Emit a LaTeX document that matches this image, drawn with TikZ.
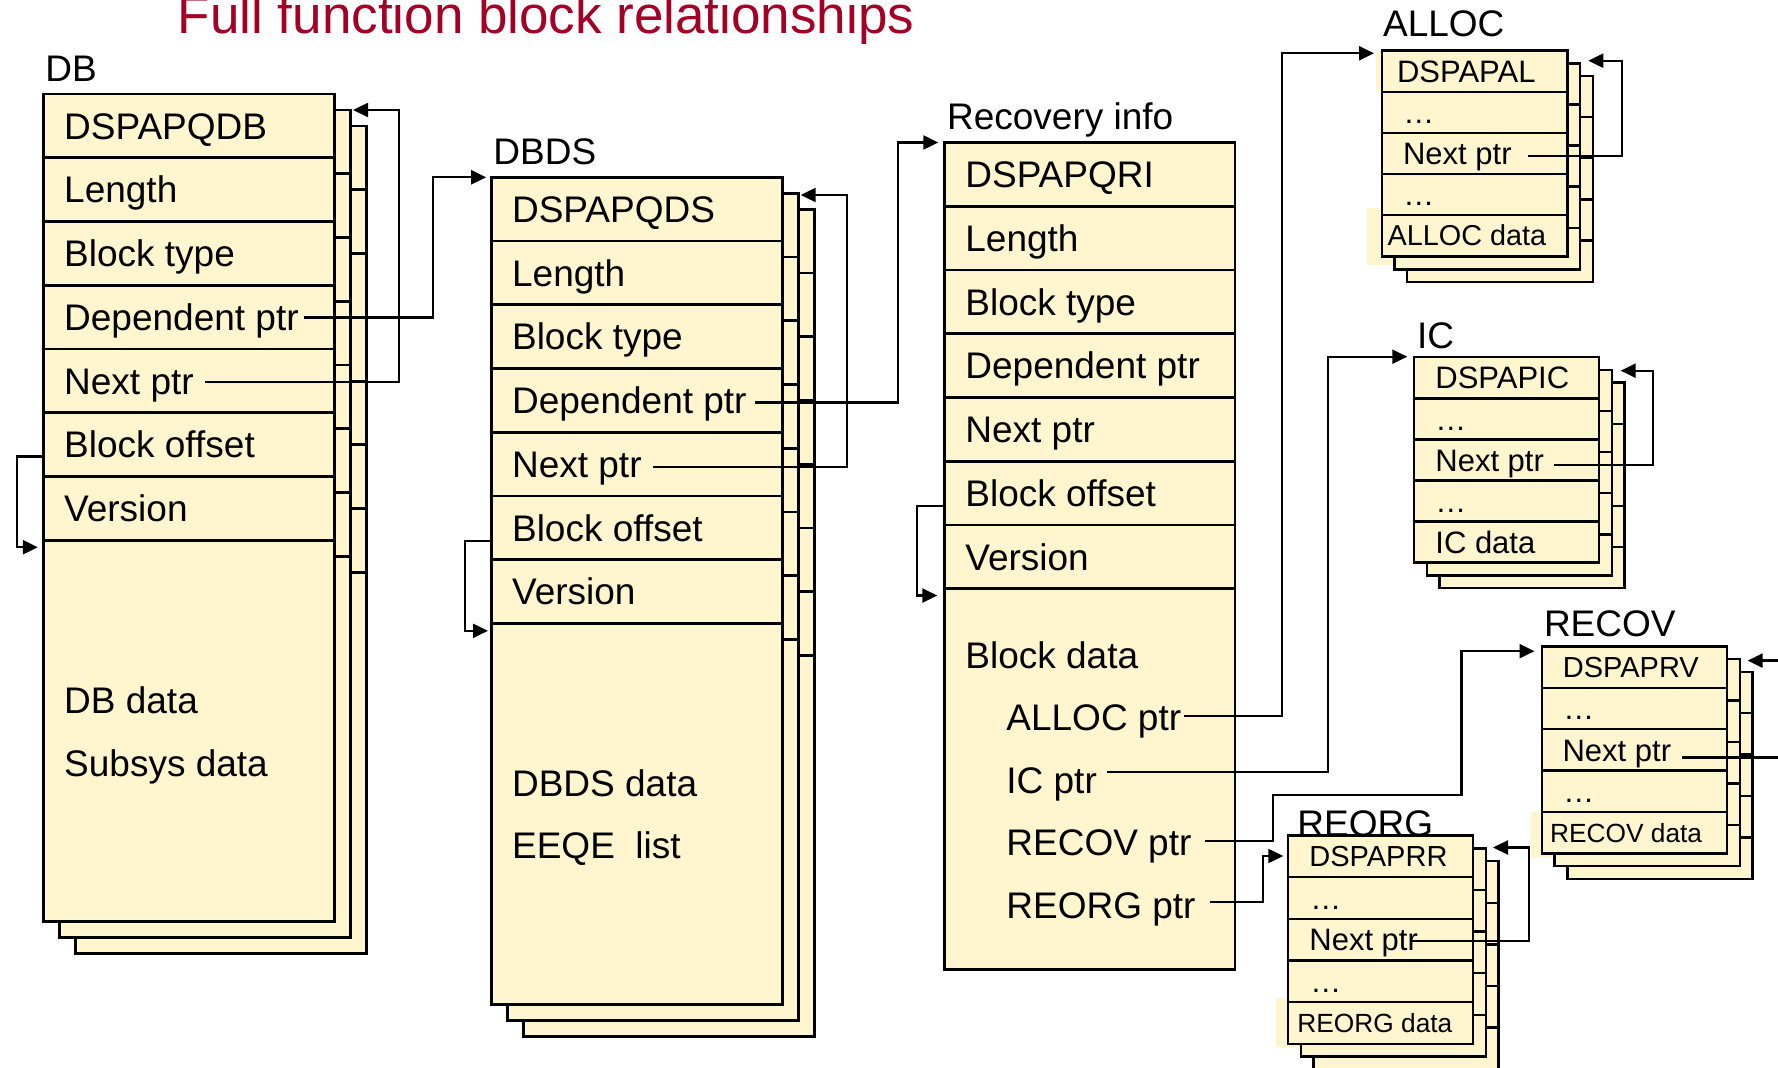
\documentclass[tikz,border=0pt]{standalone}
\usepackage{fontspec}
\setmainfont{Liberation Sans}
\usetikzlibrary{arrows.meta,calc}
\definecolor{cream}{RGB}{255,246,208}
\definecolor{titlered}{RGB}{163,0,38}

\tikzset{
  conn/.style={line width=1.15pt, -{Triangle[length=7.5pt,width=7pt]}},
  boxbase/.style={rectangle, draw=black, fill=cream, anchor=north west, inner sep=0pt, outer sep=0pt},
  bigtxt/.style={anchor=west, inner sep=0pt, font=\fontsize{18.5pt}{22pt}\selectfont, text height=13.25pt, text depth=0pt},
  smalltxt/.style={anchor=west, inner sep=0pt, font=\fontsize{15.5pt}{18pt}\selectfont, text height=11.1pt, text depth=0pt},
  narrowtxt/.style={anchor=west, inner sep=0pt, font=\fontsize{14.5pt}{17pt}\selectfont, text height=10.4pt, text depth=0pt},
  alldata/.style={anchor=west, inner sep=0pt, font=\fontsize{14.4pt}{17pt}\selectfont, text height=10.3pt, text depth=0pt},
  tinydata/.style={anchor=west, inner sep=0pt, font=\fontsize{13.15pt}{16pt}\selectfont, text height=9.4pt, text depth=0pt},
  blklabel/.style={anchor=base west, inner sep=0pt, font=\fontsize{18.5pt}{22pt}\selectfont},
}

% #1 name, #2 left, #3 top, #4 width, #5 height, #6 dividers,
% #7 row height, #8 step of the copies behind (0 = none), #9 line width
\newcommand{\fcstack}[9]{%
  \ifdim #8pt>0pt
    \foreach \k in {2,1}{%
      \pgfmathsetmacro\dd{\k*#8}%
      \node[boxbase, line width=#9, minimum width=#4*0.5pt, minimum height=#5*0.5pt] (#1\k) at (#2+\dd,#3+\dd) {};
      \foreach \r in {1,...,#6}{\draw[line width=#9] (#2+\dd,#3+\dd+\r*#7) -- ++(#4,0);}
    }%
  \fi
  \node[boxbase, line width=#9, minimum width=#4*0.5pt, minimum height=#5*0.5pt] (#1) at (#2,#3) {};
  \foreach \r in {1,...,#6}{%
    \draw[line width=#9] (#2,#3+\r*#7) -- ++(#4,0);
    \coordinate (#1-d\r) at (#2,#3+\r*#7);
  }%
  \foreach \r in {1,...,7}{\coordinate (#1-r\r) at (#2,#3+\r*#7-0.5*#7);}%
}

\begin{document}
\begin{tikzpicture}[x=0.5pt,y=-0.5pt]
\useasboundingbox (0,0) rectangle (1778,1068);
\clip (0,0) rectangle (1778,1068);

% title
\node[anchor=base west, inner sep=0pt, font=\fontsize{26.5pt}{30pt}\selectfont, text=titlered] (title) at (177.4,33.3) {Full function block relationships};

% block names
\node[blklabel] (dblabel) at (45,82) {DB};
\node[blklabel] (dslabel) at (493,164.3) {DBDS};
\node[blklabel] (rilabel) at (946.7,130) {Recovery info};
\node[blklabel] (allabel) at (1382.7,36.7) {ALLOC};
\node[blklabel] (iclabel) at (1416.7,348.3) {IC};
\node[blklabel] (rvlabel) at (1543.6,637) {RECOV};
\node[blklabel] (rolabel) at (1297,837) {REORG};

% text-box backgrounds reaching past the block edges
\fill[cream] (1376,51) rectangle (1390,91.7);
\fill[cream] (1367,208.3) rectangle (1400,265);
\fill[cream] (1531,812) rectangle (1560,857.6);
\fill[cream] (1276,998.3) rectangle (1300,1046.7);

% blocks
\fcstack{db}{43.3}{94}{291}{827.4}{7}{63.75}{16}{1.35pt}
\fcstack{ds}{491.7}{177.3}{290.6}{827}{7}{63.75}{16}{1.35pt}
\fcstack{ri}{944.3}{142.5}{290.7}{826.8}{7}{63.75}{0}{1.35pt}
\fcstack{al}{1381.7}{50.7}{185.6}{206}{4}{41.1}{12.7}{1.2pt}
\fcstack{ic}{1414}{357.3}{185}{205.4}{4}{41.1}{12.7}{1.2pt}
\fcstack{rv}{1541.9}{646.5}{185.2}{207}{4}{41.4}{12.7}{1.2pt}
\fcstack{ro}{1288}{835.7}{185.2}{208}{4}{41.6}{12.7}{1.2pt}

% DB fields
\node[bigtxt] (dbhdr)  at ($(db-r1)+(20.5,0)$) {DSPAPQDB};
\node[bigtxt] (dblen)  at ($(db-r2)+(20.5,0)$) {Length};
\node[bigtxt] (dbtype) at ($(db-r3)+(20.5,0)$) {Block type};
\node[bigtxt] (dbdep)  at ($(db-r4)+(20.5,0)$) {Dependent ptr};
\node[bigtxt] (dbnext) at ($(db-r5)+(20.5,0)$) {Next ptr};
\node[bigtxt] (dboff)  at ($(db-r6)+(20.5,0)$) {Block offset};
\node[bigtxt] (dbver)  at ($(db-r7)+(20.5,0)$) {Version};
\node[bigtxt] (dbdata) at ($(db.north west)+(20.5,606.4)$) {DB data};
\node[bigtxt] (dbsub)  at ($(db.north west)+(20.5,669.4)$) {Subsys data};

% DBDS fields
\node[bigtxt] (dshdr)  at ($(ds-r1)+(20,0)$) {DSPAPQDS};
\node[bigtxt] (dslen)  at ($(ds-r2)+(20,0)$) {Length};
\node[bigtxt] (dstype) at ($(ds-r3)+(20,0)$) {Block type};
\node[bigtxt] (dsdep)  at ($(ds-r4)+(20,0)$) {Dependent ptr};
\node[bigtxt] (dsnext) at ($(ds-r5)+(20,0)$) {Next ptr};
\node[bigtxt] (dsoff)  at ($(ds-r6)+(20,0)$) {Block offset};
\node[bigtxt] (dsver)  at ($(ds-r7)+(20,0)$) {Version};
\node[bigtxt] (dsdata) at ($(ds.north west)+(20,606.2)$) {DBDS data};
\node[bigtxt] (dseeqe) at ($(ds.north west)+(20,668)$) {EEQE\ \ list};

% Recovery info fields
\node[bigtxt] (rihdr)  at ($(ri-r1)+(20.7,0)$) {DSPAPQRI};
\node[bigtxt] (rilen)  at ($(ri-r2)+(20.7,0)$) {Length};
\node[bigtxt] (ritype) at ($(ri-r3)+(20.7,0)$) {Block type};
\node[bigtxt] (ridep)  at ($(ri-r4)+(20.7,0)$) {Dependent ptr};
\node[bigtxt] (rinext) at ($(ri-r5)+(20.7,0)$) {Next ptr};
\node[bigtxt] (rioff)  at ($(ri-r6)+(20.7,0)$) {Block offset};
\node[bigtxt] (river)  at ($(ri-r7)+(20.7,0)$) {Version};
\node[bigtxt] (ridata) at ($(ri.north west)+(20.7,512.5)$) {Block data};
\node[bigtxt] (riallocp) at ($(ri.north west)+(61.7,575)$) {ALLOC ptr};
\node[bigtxt] (riicp)    at ($(ri.north west)+(61.7,637.5)$) {IC ptr};
\node[bigtxt] (rirecovp) at ($(ri.north west)+(61.7,700)$) {RECOV ptr};
\node[bigtxt] (rireorgp) at ($(ri.north west)+(61.7,762.5)$) {REORG ptr};

% ALLOC fields
\node[smalltxt] (alhdr)  at ($(al-r1)+(15,0)$) {DSPAPAL};
\node[smalltxt] (aldot1) at ($(al-r2)+(21.3,0)$) {…};
\node[smalltxt] (alnext) at ($(al-r3)+(21,0)$) {Next ptr};
\node[smalltxt] (aldot2) at ($(al-r4)+(21.3,0)$) {…};
\node[alldata]  (aldata) at ($(al-r5)+(5.6,0)$) {ALLOC data};

% IC fields
\node[smalltxt] (ichdr)  at ($(ic-r1)+(21,0)$) {DSPAPIC};
\node[smalltxt] (icdot1) at ($(ic-r2)+(21,0)$) {…};
\node[smalltxt] (icnext) at ($(ic-r3)+(21,0)$) {Next ptr};
\node[smalltxt] (icdot2) at ($(ic-r4)+(21,0)$) {…};
\node[smalltxt] (icdata) at ($(ic-r5)+(21,0)$) {IC data};

% RECOV fields
\node[narrowtxt] (rvhdr)  at ($(rv-r1)+(20.6,0)$) {DSPAPRV};
\node[smalltxt]  (rvdot1) at ($(rv-r2)+(21,0)$) {…};
\node[smalltxt]  (rvnext) at ($(rv-r3)+(20.3,0)$) {Next ptr};
\node[smalltxt]  (rvdot2) at ($(rv-r4)+(21,0)$) {…};
\node[tinydata]  (rvdata) at ($(rv-r5)+(7.8,0)$) {RECOV data};

% REORG fields
\node[narrowtxt] (rohdr)  at ($(ro-r1)+(21,0)$) {DSPAPRR};
\node[smalltxt]  (rodot1) at ($(ro-r2)+(22,0)$) {…};
\node[smalltxt]  (ronext) at ($(ro-r3)+(21,0)$) {Next ptr};
\node[smalltxt]  (rodot2) at ($(ro-r4)+(22,0)$) {…};
\node[tinydata]  (rodata) at ($(ro-r5)+(9,0)$) {REORG data};

% DB pointers
\draw[conn] ($(dbdep.east)+(4.5,0.5)$) -| ($(ds.north west)+(-58.7,0)$) -- ($(ds.north west)+(-5.5,0)$);
\draw[conn] ($(dbnext.east)+(10.5,1)$) -| ($(db1.north east)+(48.7,0)$) -- ($(db1.north east)+(2.7,0)$);
\draw[conn] ($(db-r6)+(0,12)$) -- ++(-26.3,0) |- ($(db-d7)+(-5.5,7)$);

% DBDS pointers
\draw[conn] ($(dsdep.east)+(8,2)$) -| ($(ri.north west)+(-46,0)$) -- ($(ri.north west)+(-6,0)$);
\draw[conn] ($(dsnext.east)+(11,2.5)$) -| ($(ds1.north east)+(48.4,1.7)$) -- ($(ds1.north east)+(2.4,1.7)$);
\draw[conn] ($(ds-r6)+(0,13)$) -- ++(-26.7,0) |- ($(ds-d7)+(-3.7,7.3)$);

% Recovery info pointers
\draw[conn] ($(ri-r6)+(0,13)$) -- ++(-27.6,0) |- ($(ri-d7)+(-7,6.8)$);
\draw[conn] ($(riallocp.east)+(2.5,-1.5)$) -| ($(al.north west)+(-100,2.6)$) -- ($(al.north west)+(-7.7,2.6)$);
\draw[conn] ($(riicp.east)+(9.5,-8)$) -| ($(ic.north west)+(-85.7,-0.6)$) -- ($(ic.north west)+(-6.7,-0.6)$);
\draw[conn] ($(rirecovp.east)+(13,-1.8)$) -| ($(rv.north west)+(-268.6,148.8)$) -| ($(rv.north west)+(-80.5,4.7)$) -- ($(rv.north west)+(-7.4,4.7)$);
\draw[conn] ($(rireorgp.east)+(14,-3.3)$) -| ($(ro.north west)+(-24.7,20.3)$) -- ($(ro.north west)+(-4.7,20.3)$);

% next-block chains of the subordinate blocks
\draw[conn] ($(alnext.east)+(15.5,2.3)$) -| ($(al1.north east)+(41.7,-2.7)$) -- ($(al1.north east)+(8.3,-2.7)$);
\draw[conn] ($(icnext.east)+(9.8,5)$) -| ($(ic1.north east)+(41,0.7)$) -- ($(ic1.north east)+(9,0.7)$);
\draw[conn] ($(rvnext.east)+(10.6,7.6)$) -| ($(rv1.north east)+(70,1.4)$) -- ($(rv1.north east)+(7.8,1.4)$);
\draw[conn] ($(ronext.east)+(-6,1)$) -| ($(ro1.north east)+(42.9,-0.9)$) -- ($(ro1.north east)+(7.1,-0.9)$);
\end{tikzpicture}
\end{document}
